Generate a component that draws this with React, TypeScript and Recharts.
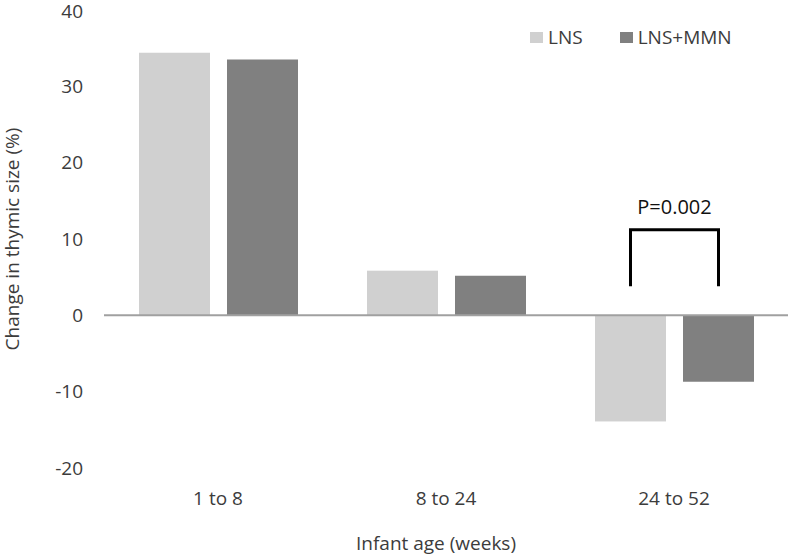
import React from 'react';
import { BarChart, Bar, XAxis, YAxis, ReferenceLine, Legend } from 'recharts';

const categories = ['1 to 8', '8 to 24', '24 to 52'];
const lnsValues = [34.4, 5.85, -13.9];
const lnsMmnValues = [33.5, 5.2, -8.7];
const yTicks = [-20, -10, 0, 10, 20, 30, 40];
const seriesNames = ['LNS', 'LNS+MMN'];
const yAxisTitle = 'Change in thymic size (%)';
const xAxisTitle = 'Infant age (weeks)';
const pValueLabel = 'P=0.002';
const bracketCategory = '24 to 52';
const bracketBottom = 3.8;
const bracketTop = 11.2;
const pLabelValue = 13.3;

const data = categories.map((c, i) => ({ category: c, lns: lnsValues[i], lnsMmn: lnsMmnValues[i] }));

const FONT = '"Open Sans", sans-serif';
const TEXT = '#3c3c3c';
const FS = 19;
const BAR_GAP = 17;

function LnsShape(props: any) {
  const { x, y, width, height, fill, payload } = props;
  const top = Math.min(y, y + height);
  const h = Math.abs(height);
  const rect = <rect x={x} y={top} width={width} height={h} fill={fill} />;
  if (!payload || payload.category !== bracketCategory) return rect;
  const v = payload.lns;
  const k = h / Math.abs(v);
  const zeroY = v >= 0 ? top + h : top;
  const py = (val: number) => zeroY - val * k;
  const x1 = x + width / 2;
  const x2 = x1 + width + BAR_GAP;
  return (
    <g>
      {rect}
      <path
        d={`M${x1},${py(bracketBottom)}V${py(bracketTop)}H${x2}V${py(bracketBottom)}`}
        stroke="#000"
        strokeWidth={3}
        fill="none"
      />
      <text x={(x1 + x2) / 2} y={py(pLabelValue)} textAnchor="middle" fontFamily={FONT} fontSize={20} fill="#111">
        {pValueLabel}
      </text>
    </g>
  );
}

function LegendContent(props: any) {
  const { payload = [] } = props;
  return (
    <div style={{ display: 'flex', alignItems: 'center', fontFamily: FONT, fontSize: FS, color: TEXT, lineHeight: '20px' }}>
      {payload.map((p: any, i: number) => (
        <div key={i} style={{ display: 'flex', alignItems: 'center', marginRight: i === 0 ? 37 : 0 }}>
          <span style={{ display: 'inline-block', width: 13, height: 11, background: p.color, marginRight: 5 }} />
          <span>{p.value}</span>
        </div>
      ))}
    </div>
  );
}

export default function App() {
  return (
    <div style={{ position: 'absolute', left: 0, top: 0, background: '#fff' }}>
      <BarChart
        width={788}
        height={557}
        data={data}
        margin={{ top: 10, right: 0, bottom: 0, left: 0 }}
        barCategoryGap={35}
        barGap={BAR_GAP}
      >
        <XAxis
          dataKey="category"
          height={89}
          axisLine={false}
          tickLine={false}
          tickSize={0}
          tickMargin={24}
          tick={{ fill: TEXT, fontSize: FS, fontFamily: FONT }}
          label={{ value: xAxisTitle, position: 'insideBottom', offset: 7, dx: -10, fill: TEXT, fontSize: FS, fontFamily: FONT }}
        />
        <YAxis
          width={104}
          domain={[-20, 40]}
          ticks={yTicks}
          axisLine={false}
          tickLine={false}
          tickSize={0}
          tickMargin={21}
          tick={{ fill: TEXT, fontSize: FS, fontFamily: FONT }}
          label={{
            value: yAxisTitle,
            angle: -90,
            position: 'insideLeft',
            offset: 12,
            fill: TEXT,
            fontSize: FS,
            fontFamily: FONT,
            style: { textAnchor: 'middle' },
          }}
        />
        <Legend
          layout="horizontal"
          verticalAlign="middle"
          align="center"
          wrapperStyle={{ top: 27, left: 530, width: 'auto' }}
          content={<LegendContent />}
        />
        <Bar dataKey="lns" name={seriesNames[0]} fill="#d0d0d0" isAnimationActive={false} shape={<LnsShape />} />
        <Bar dataKey="lnsMmn" name={seriesNames[1]} fill="#808080" isAnimationActive={false} />
        <ReferenceLine y={0} stroke="#a0a0a0" strokeWidth={2} />
      </BarChart>
    </div>
  );
}
